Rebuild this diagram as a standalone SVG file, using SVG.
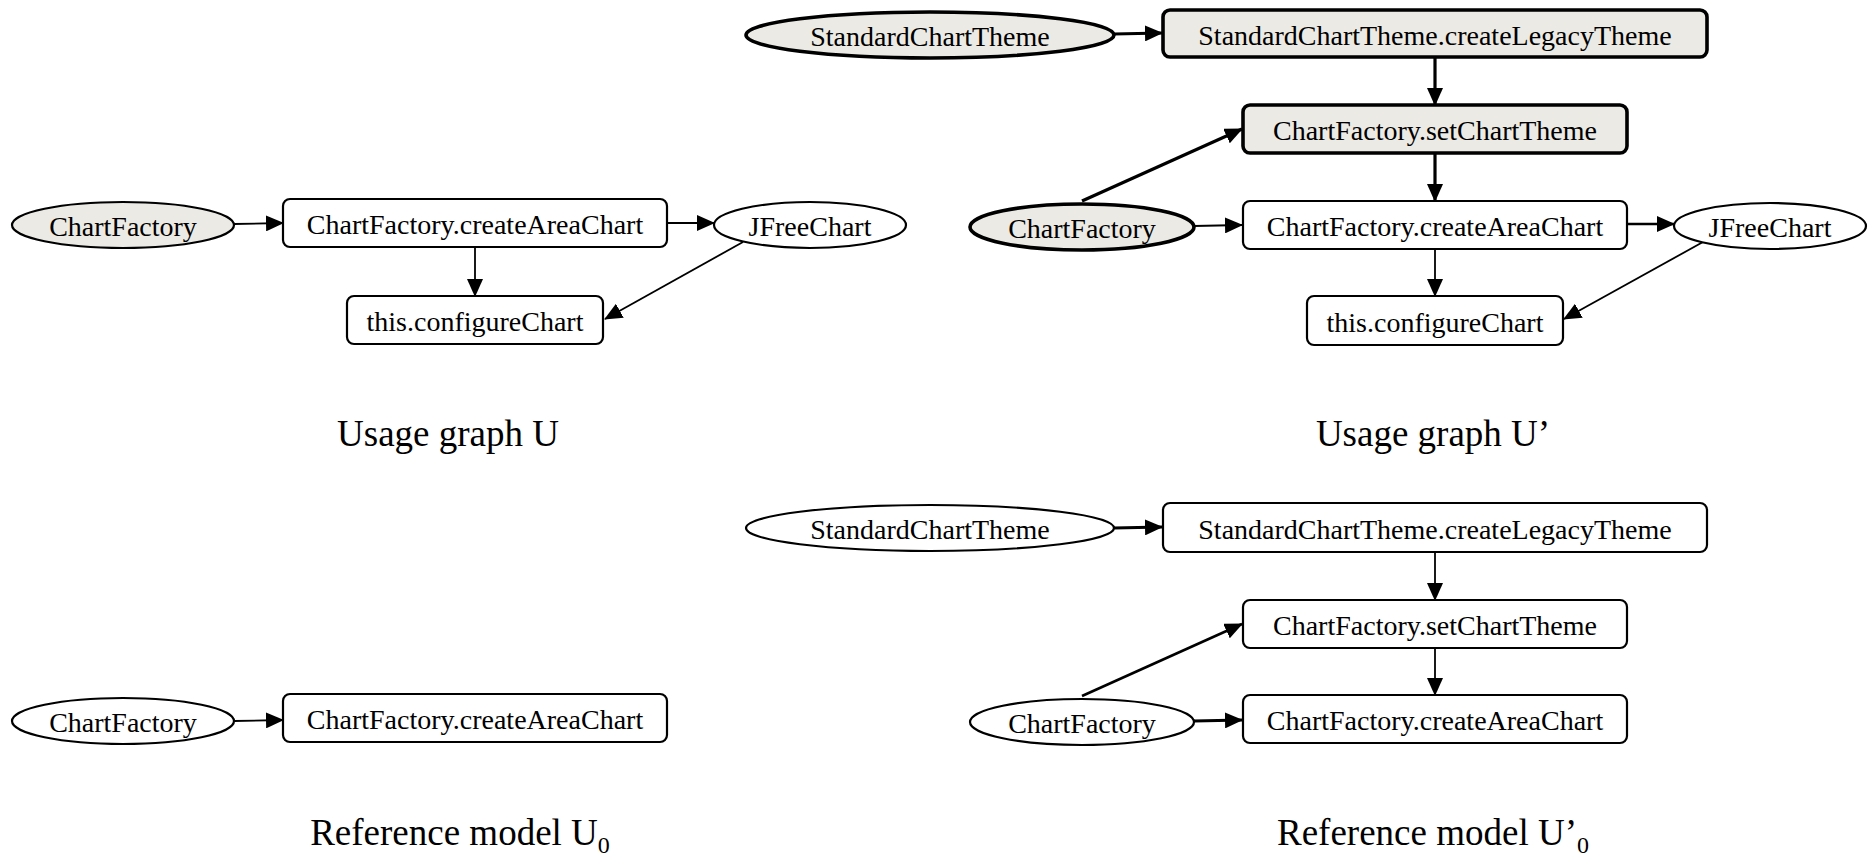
<svg xmlns="http://www.w3.org/2000/svg" width="1873" height="857" viewBox="0 0 1873 857">
  <style>
    .n { fill: #ffffff; stroke: #000; stroke-width: 2.2; }
    .g { fill: #ECEAE4; }
    .b { stroke-width: 3.6; }
    .t { font-family: "Liberation Serif", Tinos, "Times New Roman", "DejaVu Serif", serif; font-size: 28px; fill: #000; text-anchor: middle; }
    .cap { font-family: "Liberation Serif", Tinos, "Times New Roman", "DejaVu Serif", serif; font-size: 37px; fill: #000; text-anchor: middle; }
    .e { fill: none; stroke: #000; stroke-width: 1.8; marker-end: url(#ah); }
    .eb { fill: none; stroke: #000; stroke-width: 3.2; marker-end: url(#ah); }
    .em { fill: none; stroke: #000; stroke-width: 2.6; marker-end: url(#ah); }
  </style>
  <defs>
    <marker id="ah" markerUnits="userSpaceOnUse" markerWidth="18" markerHeight="16" refX="17" refY="8" orient="auto">
      <path d="M0,0 L18,8 L0,16 Z" fill="#000"/>
    </marker>
  </defs>
  <rect width="1873" height="857" fill="#ffffff"/>

  <!-- connectors -->
  <g id="edges">
    <!-- U -->
    <line class="e" x1="234" y1="224" x2="283" y2="223"/>
    <line class="e" x1="667" y1="223" x2="714" y2="223"/>
    <line class="e" x1="475" y1="247" x2="475" y2="296"/>
    <line class="e" x1="743" y1="242" x2="605" y2="319"/>
    <!-- U' -->
    <line class="eb" x1="1114" y1="34" x2="1162" y2="33"/>
    <line class="eb" x1="1435" y1="57" x2="1435" y2="105"/>
    <line class="eb" x1="1082" y1="201" x2="1242" y2="129"/>
    <line class="eb" x1="1435" y1="153" x2="1435" y2="201"/>
    <line class="e" x1="1194" y1="226" x2="1242" y2="225"/>
    <line class="em" x1="1627" y1="224" x2="1674" y2="224"/>
    <line class="e" x1="1435" y1="249" x2="1435" y2="296"/>
    <line class="e" x1="1703" y1="242" x2="1564" y2="319"/>
    <!-- U0 -->
    <line class="e" x1="234" y1="721" x2="283" y2="720"/>
    <!-- U'0 -->
    <line class="eb" x1="1114" y1="528" x2="1162" y2="527"/>
    <line class="e" x1="1435" y1="552" x2="1435" y2="600"/>
    <line class="em" x1="1082" y1="696" x2="1242" y2="624"/>
    <line class="e" x1="1435" y1="648" x2="1435" y2="695"/>
    <line class="eb" x1="1194" y1="721" x2="1242" y2="720"/>
  </g>

  <!-- Usage graph U -->
  <g id="u-chartfactory">
    <ellipse class="n g" cx="123" cy="225" rx="111" ry="23"/>
    <text class="t" x="123" y="236">ChartFactory</text>
  </g>
  <g id="u-createareachart">
    <rect class="n" x="283" y="199" width="384" height="48" rx="7"/>
    <text class="t" x="475" y="234">ChartFactory.createAreaChart</text>
  </g>
  <g id="u-jfreechart">
    <ellipse class="n" cx="810" cy="225" rx="96" ry="23"/>
    <text class="t" x="810" y="236">JFreeChart</text>
  </g>
  <g id="u-configurechart">
    <rect class="n" x="347" y="296" width="256" height="48" rx="7"/>
    <text class="t" x="475" y="331">this.configureChart</text>
  </g>

  <!-- Usage graph U' -->
  <g id="up-standardcharttheme">
    <ellipse class="n g b" cx="930" cy="35" rx="184" ry="23"/>
    <text class="t" x="930" y="46">StandardChartTheme</text>
  </g>
  <g id="up-createlegacytheme">
    <rect class="n g b" x="1163" y="10" width="544" height="47" rx="7"/>
    <text class="t" x="1435" y="45">StandardChartTheme.createLegacyTheme</text>
  </g>
  <g id="up-setcharttheme">
    <rect class="n g b" x="1243" y="105" width="384" height="48" rx="7"/>
    <text class="t" x="1435" y="140">ChartFactory.setChartTheme</text>
  </g>
  <g id="up-chartfactory">
    <ellipse class="n g b" cx="1082" cy="227" rx="112" ry="23"/>
    <text class="t" x="1082" y="238">ChartFactory</text>
  </g>
  <g id="up-createareachart">
    <rect class="n" x="1243" y="201" width="384" height="48" rx="7"/>
    <text class="t" x="1435" y="236">ChartFactory.createAreaChart</text>
  </g>
  <g id="up-jfreechart">
    <ellipse class="n" cx="1770" cy="226" rx="96" ry="23"/>
    <text class="t" x="1770" y="237">JFreeChart</text>
  </g>
  <g id="up-configurechart">
    <rect class="n" x="1307" y="296" width="256" height="49" rx="7"/>
    <text class="t" x="1435" y="332">this.configureChart</text>
  </g>

  <!-- Reference model U0 -->
  <g id="r-chartfactory">
    <ellipse class="n" cx="123" cy="721" rx="111" ry="23"/>
    <text class="t" x="123" y="732">ChartFactory</text>
  </g>
  <g id="r-createareachart">
    <rect class="n" x="283" y="694" width="384" height="48" rx="7"/>
    <text class="t" x="475" y="729">ChartFactory.createAreaChart</text>
  </g>

  <!-- Reference model U'0 -->
  <g id="rp-standardcharttheme">
    <ellipse class="n" cx="930" cy="528" rx="184" ry="23"/>
    <text class="t" x="930" y="539">StandardChartTheme</text>
  </g>
  <g id="rp-createlegacytheme">
    <rect class="n" x="1163" y="503" width="544" height="49" rx="7"/>
    <text class="t" x="1435" y="539">StandardChartTheme.createLegacyTheme</text>
  </g>
  <g id="rp-setcharttheme">
    <rect class="n" x="1243" y="600" width="384" height="48" rx="7"/>
    <text class="t" x="1435" y="635">ChartFactory.setChartTheme</text>
  </g>
  <g id="rp-chartfactory">
    <ellipse class="n" cx="1082" cy="722" rx="112" ry="23"/>
    <text class="t" x="1082" y="733">ChartFactory</text>
  </g>
  <g id="rp-createareachart">
    <rect class="n" x="1243" y="695" width="384" height="48" rx="7"/>
    <text class="t" x="1435" y="730">ChartFactory.createAreaChart</text>
  </g>

  <!-- captions -->
  <g id="captions">
    <text class="cap" x="448" y="446">Usage graph U</text>
    <text class="cap" x="1433" y="446">Usage graph U’</text>
    <text class="cap" x="460" y="845">Reference model U<tspan font-size="24" dy="8">0</tspan></text>
    <text class="cap" x="1433" y="845">Reference model U’<tspan font-size="24" dy="8">0</tspan></text>
  </g>
</svg>
